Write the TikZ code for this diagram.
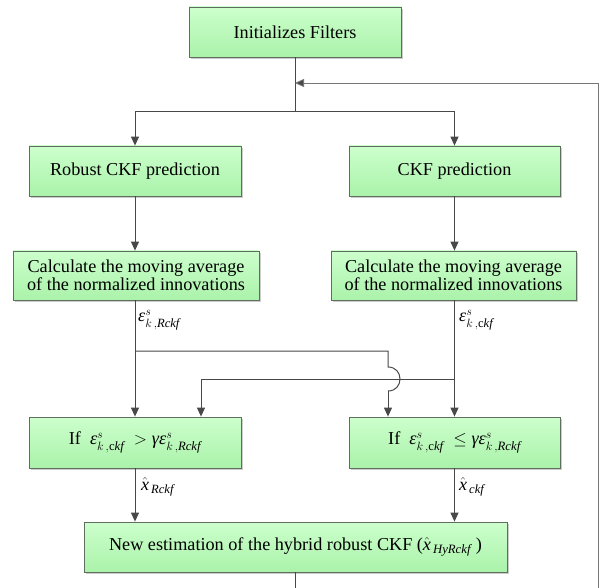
\documentclass[tikz,border=0pt]{standalone}
\usepackage{amsmath}
\usepackage{fontspec}
\setmainfont{Liberation Serif}
\usetikzlibrary{arrows.meta,shadows}
\definecolor{boxtop}{RGB}{204,255,204}
\definecolor{boxbot}{RGB}{170,242,170}
\definecolor{boxline}{RGB}{95,110,95}
\definecolor{connc}{RGB}{72,72,72}
\definecolor{loopc}{RGB}{120,120,120}
\newcommand{\ve}{\textit{ε}}
\newcommand{\vg}{\textit{γ}}
\begin{document}
\begin{tikzpicture}[x=1pt,y=-1pt,
  fbox/.style={draw=boxline, line width=0.8pt, top color=boxtop, bottom color=boxbot,
    inner sep=0pt, align=center, font=\fontsize{18.2}{18}\selectfont,
    drop shadow={shadow xshift=2pt,shadow yshift=-2pt,fill=black!20,opacity=1}},
  conn/.style={draw=connc, line width=1pt},
  arr/.style={conn, -{Triangle[length=9pt,width=8pt]}},
  loopline/.style={draw=loopc, line width=0.8pt, -{Triangle[length=9pt,width=8pt,fill=connc]}},
  lab/.style={anchor=west, inner sep=0pt, font=\fontsize{18}{18}\selectfont}]
\useasboundingbox[fill=white] (0,0) rectangle (600,588);

% boxes
\node[fbox, minimum width=212pt, minimum height=50pt] (init) at (295,32) {Initializes Filters};
\node[fbox, minimum width=212pt, minimum height=50pt] (rob) at (135,171) {Robust CKF prediction};
\node[fbox, minimum width=211pt, minimum height=50pt] (ckf) at (454.5,171) {CKF prediction};
\node[fbox, minimum width=246pt, minimum height=49pt] (calcL) at (136,275.5) {Calculate the moving average\\of the normalized innovations};
\node[fbox, minimum width=245pt, minimum height=49pt] (calcR) at (453.5,275.5) {Calculate the moving average\\of the normalized innovations};
\node[fbox, minimum width=212pt, minimum height=51pt] (ifL) at (135,442.5) {If\ \ $\ve^{s}_{k\,,\mathrm{c}\mathit{kf}}\;>\vg\ve^{s}_{k\,,\mathit{Rckf}}$};
\node[fbox, minimum width=211pt, minimum height=51pt] (ifR) at (454.5,442.5) {If\ \ $\ve^{s}_{k\,,\mathrm{c}\mathit{kf}}\;\leq\vg\ve^{s}_{k\,,\mathit{Rckf}}$};
\node[fbox, minimum width=423pt, minimum height=50pt] (new) at (295.5,547) {New estimation of the hybrid robust CKF ($\hat{\mathit{x}}_{\,\mathit{HyRckf}}\;$)};

% labels
\node[lab] (eL) at (138,320) {$\ve^{s}_{k\,,\mathit{Rckf}}$};
\node[lab] (eR) at (459,320) {$\ve^{s}_{k\,,\mathrm{c}\mathit{kf}}$};
\node[lab] (xL) at (141,487) {$\hat{\mathit{x}}_{\,\mathit{Rckf}}$};
\node[lab] (xR) at (459,487) {$\hat{\mathit{x}}_{\,\mathit{ckf}}$};

% coordinates
\coordinate (split) at (295,112);
\coordinate (fb) at (295,83);
\coordinate (h1) at (135,351);
\coordinate (h1e) at (388,351);
\coordinate (hopA) at (388,367);
\coordinate (hopB) at (388,391);
\coordinate (h2) at (454.5,379);
\coordinate (h2e) at (201,379);
\coordinate (bot) at (295.5,588);
\coordinate (rb) at (598,588);
\coordinate (rt) at (598,83);

% connectors
\draw[conn] (init.south) -- (split);
\draw[arr] (split) -| (rob.north);
\draw[arr] (split) -| (ckf.north);
\draw[arr] (rob.south) -- (rob.south |- calcL.north);
\draw[arr] (ckf.south) -- (ckf.south |- calcR.north);
\draw[arr] (calcL.south -| ifL.north) -- (ifL.north);
\draw[arr] (calcR.south -| ifR.north) -- (ifR.north);
\draw[conn] (h1) -- (h1e) -- (hopA) .. controls (404,367) and (404,391) .. (hopB);
\draw[arr] (hopB) -- (hopB |- ifR.north);
\draw[arr] (h2) -- (h2e) -- (h2e |- ifL.north);
\draw[arr] (ifL.south) -- (ifL.south |- new.north);
\draw[arr] (ifR.south) -- (ifR.south |- new.north);
\draw[conn] (new.south) -- (bot);
\draw[loopline] (rb) -- (rt) -- (fb);
\end{tikzpicture}
\end{document}
